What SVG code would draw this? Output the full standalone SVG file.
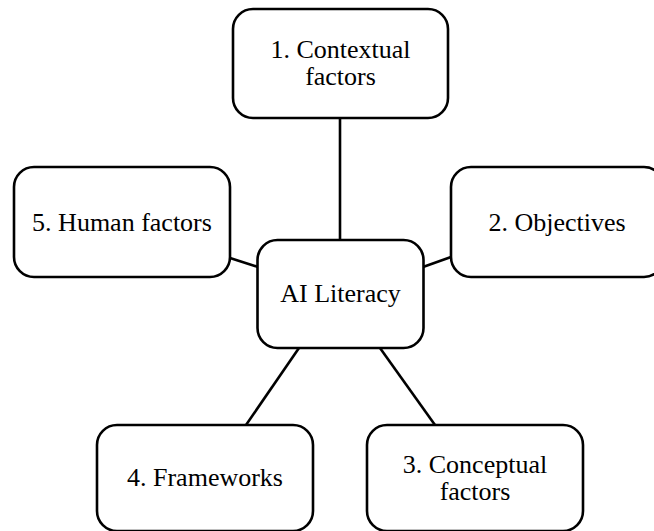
<svg xmlns="http://www.w3.org/2000/svg" width="654" height="531" viewBox="0 0 654 531">
<style>
.box{fill:#fff;stroke:#000;stroke-width:2.6}
.lbl{font-family:'Liberation Serif','DejaVu Serif',serif;font-size:26px;fill:#000;text-anchor:middle}
.conn line{stroke:#000;stroke-width:2.6}
</style>
<rect width="654" height="531" fill="#fff"/>
<g id="connectors" class="conn">
<line x1="340" y1="118" x2="340" y2="240"/>
<line x1="230" y1="258" x2="258" y2="267"/>
<line x1="423" y1="267" x2="451" y2="257"/>
<line x1="299" y1="348" x2="246" y2="425"/>
<line x1="380" y1="348" x2="435" y2="425"/>
</g>
<g id="node1">
<rect class="box" x="233" y="9" width="215" height="109" rx="20"/>
<text class="lbl" font-family="Liberation Serif, serif" x="340.5" y="58">1. Contextual</text>
<text class="lbl" font-family="Liberation Serif, serif" x="340.5" y="85">factors</text>
</g>
<g id="node5">
<rect class="box" x="14" y="167" width="216" height="110" rx="20"/>
<text class="lbl" font-family="Liberation Serif, serif" x="122" y="231">5. Human factors</text>
</g>
<g id="node2">
<rect class="box" x="451" y="167" width="213" height="110" rx="20"/>
<text class="lbl" font-family="Liberation Serif, serif" x="557" y="231">2. Objectives</text>
</g>
<g id="center">
<rect class="box" x="257.5" y="240" width="166" height="108" rx="20"/>
<text class="lbl" font-family="Liberation Serif, serif" x="340.5" y="302">AI Literacy</text>
</g>
<g id="node4">
<rect class="box" x="97" y="425" width="216" height="106" rx="20"/>
<text class="lbl" font-family="Liberation Serif, serif" x="205" y="486">4. Frameworks</text>
</g>
<g id="node3">
<rect class="box" x="367" y="425" width="216" height="106" rx="20"/>
<text class="lbl" font-family="Liberation Serif, serif" x="475" y="473">3. Conceptual</text>
<text class="lbl" font-family="Liberation Serif, serif" x="475" y="500">factors</text>
</g>
</svg>
